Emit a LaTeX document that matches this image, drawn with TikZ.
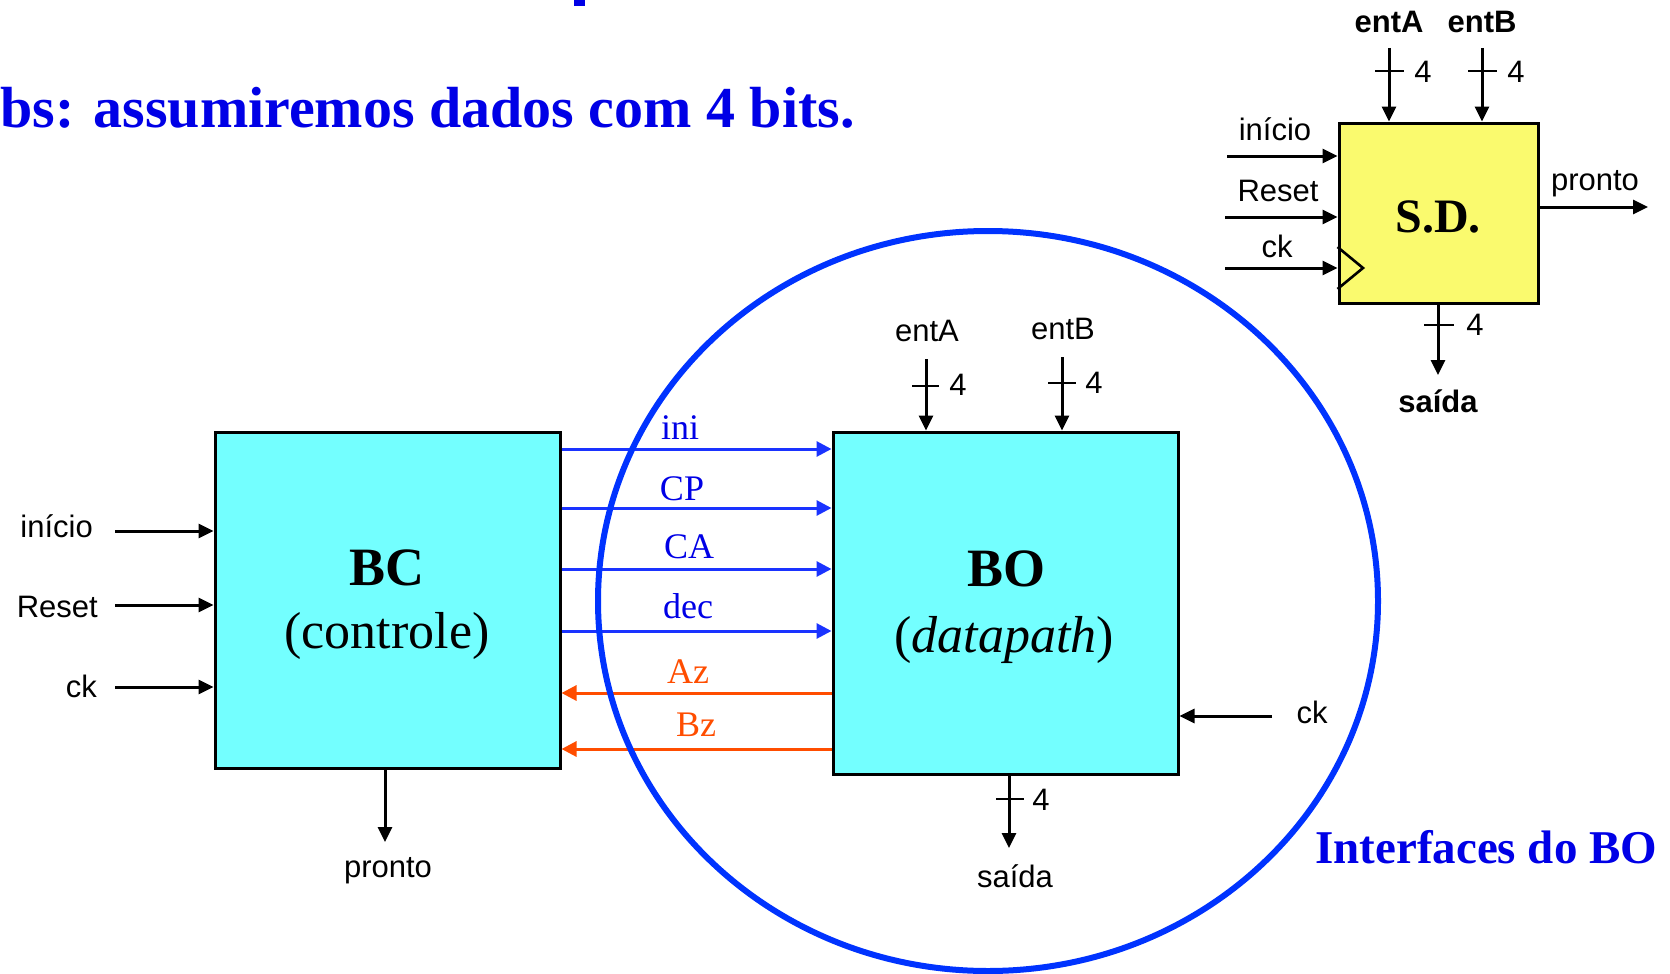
\documentclass[tikz,border=0pt]{standalone}
\usepackage{fontspec}
\setmainfont{Liberation Serif}
\setsansfont{Liberation Sans}
\usetikzlibrary{arrows.meta}
\definecolor{cyanbox}{HTML}{73FFFF}
\definecolor{sdyellow}{HTML}{FAFA6E}
\definecolor{tblue}{HTML}{0000E6}
\definecolor{cblue}{HTML}{0033FF}
\definecolor{sblue}{HTML}{1A33FF}
\definecolor{sorange}{HTML}{FF4D00}
\begin{document}
\begin{tikzpicture}[x=1pt,y=-1pt,
  box/.style={draw=black, line width=3pt, fill=cyanbox, inner sep=0pt},
  arr/.style={line width=3pt, -{Triangle[length=15pt,width=14pt]}},
  sig/.style={line width=3pt, sblue, -{Triangle[length=15pt,width=15pt]}},
  back/.style={line width=3pt, sorange, -{Triangle[length=15pt,width=15pt]}},
  lbl/.style={font=\sffamily\fontsize{31}{36}\selectfont, inner sep=0pt, anchor=base},
  blbl/.style={font=\sffamily\bfseries\fontsize{31}{36}\selectfont, inner sep=0pt, anchor=base},
  slbl/.style={font=\fontsize{36}{42}\selectfont, inner sep=0pt, anchor=base, tblue},
  olbl/.style={font=\fontsize{36}{42}\selectfont, inner sep=0pt, anchor=base, sorange},
  bigb/.style={font=\bfseries\fontsize{54}{60}\selectfont, inner sep=0pt, anchor=base},
  bign/.style={font=\fontsize{52}{60}\selectfont, inner sep=0pt, anchor=base},
  tickline/.style={line width=2.6pt},
]
\useasboundingbox (0,0) rectangle (1670,974);

% title fragments
\fill[tblue] (574,0) rectangle (585,6);
\node[anchor=base west, inner sep=0pt, font=\bfseries\fontsize{58}{64}\selectfont, text=tblue] (title) at (0,127) {bs: assumiremos dados com 4 bits.};

% ===== S.D. block =====
\node[draw=black, line width=3pt, fill=sdyellow, minimum width=199pt, minimum height=180pt, inner sep=0pt] (SD) at (1438.5,213) {};
\node[font=\bfseries\fontsize{48}{54}\selectfont, inner sep=0pt, anchor=base] (sdtxt) at (1438,232) {S.D.};
\draw[line width=2.6pt, line join=miter] (SD.west |- 0,247) -- (1363,268) -- (SD.west |- 0,289);

\coordinate (sdIni) at (1227,156);
\coordinate (sdRst) at (1225,217);
\coordinate (sdCk) at (1225,268);
\draw[arr] (sdIni) -- (SD.west |- sdIni);
\draw[arr] (sdRst) -- (SD.west |- sdRst);
\draw[arr] (sdCk) -- (SD.west |- sdCk);
\node[lbl] (sdIniL) at (1275,140) {início};
\node[lbl] (sdRstL) at (1278,201) {Reset};
\node[lbl] (sdCkL) at (1277,257) {ck};

\coordinate (sdA) at (1389,48);
\coordinate (sdB) at (1482,48);
\draw[arr] (sdA) -- (SD.north -| sdA);
\draw[arr] (sdB) -- (SD.north -| sdB);
\draw[tickline] (1375,71) -- (1404,71);
\draw[tickline] (1468,71) -- (1497,71);
\node[blbl] (sdAL) at (1389,33) {entA};
\node[blbl] (sdBL) at (1482,33) {entB};
\node[lbl] (sdA4) at (1423,82) {4};
\node[lbl] (sdB4) at (1516,82) {4};

\coordinate (sdPr) at (1648,207);
\draw[arr] (SD.east |- sdPr) -- (sdPr);
\node[lbl] (sdPrL) at (1595,190) {pronto};

\coordinate (sdOut) at (1438,375);
\draw[arr] (SD.south -| sdOut) -- (sdOut);
\draw[tickline] (1424,325) -- (1454,325);
\node[lbl] (sdO4) at (1475,335) {4};
\node[blbl] (sdOL) at (1438,412) {saída};

% ===== BC block =====
\node[box, minimum width=345pt, minimum height=336pt] (BC) at (387.5,600) {};
\node[bigb] (bct) at (387,585) {BC};
\node[bign] (bcs) at (387,648) {(controle)};

\coordinate (bcIni) at (115,531);
\coordinate (bcRst) at (115,605);
\coordinate (bcCk) at (115,687);
\draw[arr] (bcIni) -- (BC.west |- bcIni);
\draw[arr] (bcRst) -- (BC.west |- bcRst);
\draw[arr] (bcCk) -- (BC.west |- bcCk);
\node[lbl, anchor=base east] (bcIniL) at (93,537) {início};
\node[lbl, anchor=base east] (bcRstL) at (98,617) {Reset};
\node[lbl, anchor=base east] (bcCkL) at (97,697) {ck};

\coordinate (bcPr) at (385,842);
\draw[arr] (BC.south -| bcPr) -- (bcPr);
\node[lbl] (bcPrL) at (388,877) {pronto};

% ===== BO block =====
\node[box, minimum width=345pt, minimum height=342pt] (BO) at (1005.5,603) {};
\node[bigb] (bot) at (1006,586) {BO};
\node[bign] (bos) at (1004,652) {(\textit{datapath})};

\coordinate (boA) at (926,359);
\coordinate (boB) at (1062,357);
\draw[arr] (boA) -- (BO.north -| boA);
\draw[arr] (boB) -- (BO.north -| boB);
\draw[tickline] (912,386) -- (939,386);
\draw[tickline] (1048,383) -- (1076,383);
\node[lbl] (boAL) at (927,341) {entA};
\node[lbl] (boBL) at (1063,339) {entB};
\node[lbl] (boA4) at (958,395) {4};
\node[lbl] (boB4) at (1094,393) {4};

\coordinate (boCk) at (1272,716);
\draw[arr] (boCk) -- (BO.east |- boCk);
\node[lbl] (boCkL) at (1312,723) {ck};

\coordinate (boOut) at (1009,848);
\draw[arr] (BO.south -| boOut) -- (boOut);
\draw[tickline] (996,799) -- (1024,799);
\node[lbl] (boO4) at (1041,810) {4};
\node[lbl] (boOL) at (1015,887) {saída};

% ===== signals =====
\coordinate (yIni) at (0,449);
\coordinate (yCP) at (0,508);
\coordinate (yCA) at (0,569);
\coordinate (yDec) at (0,631);
\coordinate (yAz) at (0,693);
\coordinate (yBz) at (0,749);
\draw[sig] (BC.east |- yIni) -- (BO.west |- yIni);
\draw[sig] (BC.east |- yCP) -- (BO.west |- yCP);
\draw[sig] (BC.east |- yCA) -- (BO.west |- yCA);
\draw[sig] (BC.east |- yDec) -- (BO.west |- yDec);
\draw[back] (BO.west |- yAz) -- (BC.east |- yAz);
\draw[back] (BO.west |- yBz) -- (BC.east |- yBz);
\node[slbl] (iniL) at (680,439) {ini};
\node[slbl] (cpL) at (682,500) {CP};
\node[slbl] (caL) at (689,558) {CA};
\node[slbl] (decL) at (688,618) {dec};
\node[olbl] (azL) at (688,683) {Az};
\node[olbl] (bzL) at (696,736) {Bz};

% ===== interface circle =====
\draw[cblue, line width=6pt] (988,601) ellipse [x radius=390pt, y radius=370pt];
\node[anchor=base west, inner sep=0pt, font=\bfseries\fontsize{47}{54}\selectfont, text=tblue] (intf) at (1315,863) {Interfaces do BO};
\end{tikzpicture}
\end{document}
